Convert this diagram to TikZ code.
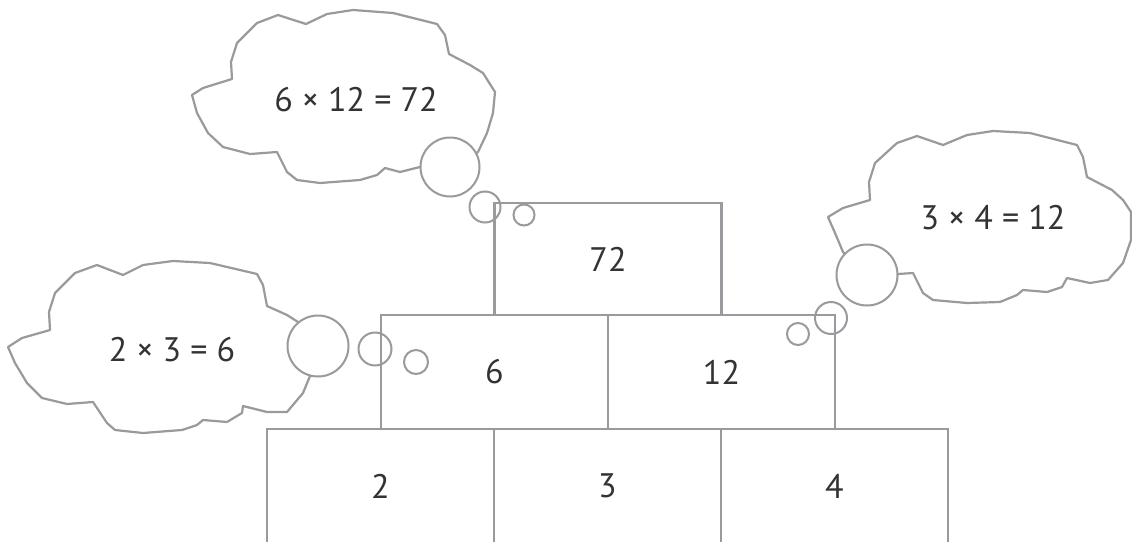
\documentclass[tikz,border=0pt]{standalone}
\usepackage{fontspec}
\setmainfont{PT Sans}
\definecolor{linegray}{RGB}{153,153,158}
\definecolor{textgray}{RGB}{51,51,51}
\tikzset{
  cell/.style={draw=linegray, line width=2.4pt, rectangle, minimum width=227pt, minimum height=114pt, inner sep=0pt, text=textgray, font=\fontsize{34}{40}\selectfont},
  cloud line/.style={draw=linegray, line width=2.2pt, line join=round},
  bubble/.style={draw=linegray, line width=2pt, circle, inner sep=0pt},
  big bubble/.style={bubble, fill=white},
  thought/.style={text=textgray, font=\fontsize{34}{40}\selectfont, inner sep=0pt},
}
\begin{document}
\begin{tikzpicture}[x=1pt,y=-1pt]
\clip (0,0) rectangle (1132,541);
\fill[white] (0,0) rectangle (1132,541);
% boxes
\node[cell] (b2) at (380.5,486) {2};
\node[cell] (b3) at (607.5,486) {3};
\node[cell] (b4) at (834.5,486) {4};
\node[cell] (m6) at (494.5,372) {6};
\node[cell] (m12) at (721.5,372) {12};
\node[cell, minimum height=112pt] (t72) at (608,259) {72};
% top cloud
\path[cloud line] (192,95) -- (203,88) -- (232,79) -- (231,62) -- (237,43) -- (257,23) -- (278,15) -- (306,24) -- (327,14) -- (353,10) -- (393,13) -- (437,24) -- (445,35) -- (449,54) -- (470,65) -- (483,73) -- (495,92) -- (493,113) -- (487,133) -- (478,152) -- (450,167) -- (420,167) -- (400,172) -- (385,168) -- (377,175) -- (360,180) -- (320,183) -- (297,180) -- (287,172) -- (277,152) -- (250,154) -- (223,147) -- (208,133) -- (197,113) -- cycle;
\node[big bubble, minimum size=59pt] (tc1) at (450,167) {};
\node[bubble, minimum size=31pt] (tc2) at (485,207) {};
\node[bubble, minimum size=21pt] (tc3) at (524,215) {};
\node[thought] (tt) at (356,100) {6 × 12 = 72};
% left cloud
\path[cloud line] (8,347) -- (22,338) -- (50,330) -- (49,312) -- (55,293) -- (75,273) -- (97,265) -- (123,275) -- (143,265) -- (173,261) -- (210,263) -- (257,274) -- (263,285) -- (267,306) -- (287,315) -- (298,322) -- (318,346) -- (310,376) -- (303,393) -- (287,412) -- (267,412) -- (243,406) -- (242,413) -- (227,422) -- (203,420) -- (197,425) -- (182,430) -- (143,433) -- (115,430) -- (107,423) -- (93,402) -- (67,404) -- (42,398) -- (27,383) -- (15,363) -- cycle;
\node[big bubble, minimum size=61pt] (lc1) at (318,346) {};
\node[bubble, minimum size=33pt] (lc2) at (375,349) {};
\node[bubble, minimum size=24pt] (lc3) at (416,362) {};
\node[thought] (lt) at (172,350) {2 × 3 = 6};
% right cloud
\path[cloud line] (828,217) -- (843,208) -- (870,200) -- (869,182) -- (875,163) -- (897,143) -- (917,136) -- (943,145) -- (967,135) -- (993,131) -- (1030,133) -- (1077,145) -- (1083,157) -- (1087,177) -- (1112,190) -- (1123,200) -- (1131,212) -- (1131,240) -- (1123,263) -- (1108,280) -- (1090,283) -- (1067,278) -- (1062,287) -- (1047,292) -- (1023,290) -- (1017,295) -- (1000,302) -- (967,303) -- (933,300) -- (923,293) -- (913,273) -- (898,274) -- (867,275) -- (843,252) -- (835,233) -- cycle;
\node[big bubble, minimum size=61pt] (rc1) at (867,275) {};
\node[bubble, minimum size=32pt] (rc2) at (831,318) {};
\node[bubble, minimum size=22pt] (rc3) at (798,334) {};
\node[thought] (rt) at (993,218) {3 × 4 = 12};
\end{tikzpicture}
\end{document}
